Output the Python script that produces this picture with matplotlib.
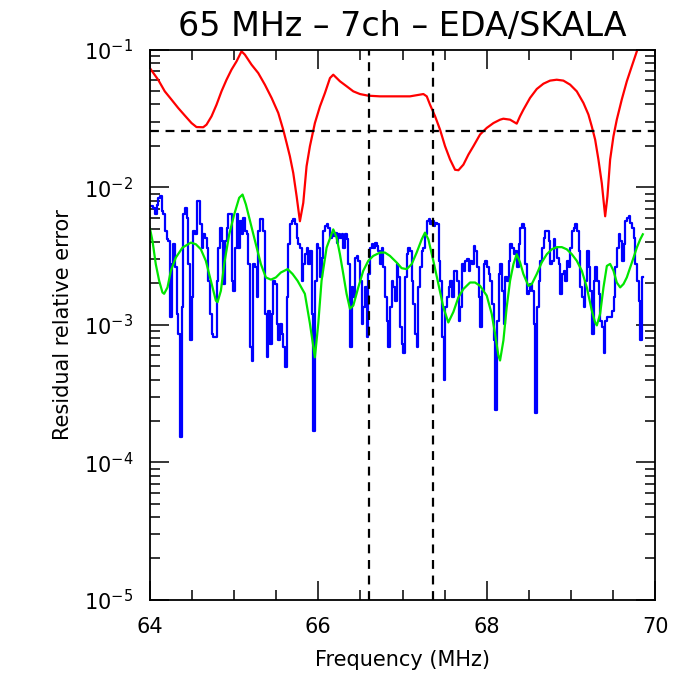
import numpy as np
import matplotlib
matplotlib.use("Agg")
import matplotlib.pyplot as plt
from matplotlib.ticker import MultipleLocator, LogLocator, NullFormatter

# residual error of the fit, per channel (units of 1e-3), channel step ~0.0198 MHz
blue_e3 = [
    7.28, 7.28, 7.09, 6.34, 7.49, 8.38, 8.61, 6.71, 6.34, 4.81, 4.18, 4.07, 1.14, 2.76, 3.85,
    2.61, 1.20, 0.86, 0.154, 1.34, 6.34, 7.09, 6.00, 2.76, 0.77, 1.58, 4.81, 4.55, 7.92, 7.92,
    5.37, 3.64, 4.55, 4.30, 3.64, 2.09, 1.20, 0.86, 0.81, 0.81, 2.09, 3.64, 5.08, 4.07, 1.98,
    4.07, 5.08, 6.34, 6.34, 2.09, 1.77, 3.64, 6.34, 3.64, 5.68, 4.55, 6.00, 4.81, 4.55, 2.76,
    0.69, 0.55, 2.76, 2.61, 1.58, 4.81, 5.84, 5.84, 4.81, 1.20, 0.58, 1.27, 0.73, 1.20, 2.09,
    1.98, 1.02, 0.77, 1.02, 0.86, 0.69, 0.49, 1.58, 3.85, 5.37, 5.68, 5.84, 5.37, 4.30, 3.85,
    # 65.8 MHz ->
    3.64, 2.09, 2.76, 3.26, 3.64, 2.76, 3.44, 1.20, 0.17, 2.09, 3.85, 3.64, 2.21, 3.08, 4.81,
    5.22, 5.37, 5.08, 4.30, 4.55, 4.42, 4.68, 3.96, 4.55, 4.30, 4.55, 3.64, 4.55, 4.18, 2.76,
    0.69, 1.87, 1.58, 3.08, 3.17, 2.92, 2.09, 1.02, 1.34, 1.87, 0.81, 2.34, 3.64, 3.85, 3.64,
    3.96, 3.75, 3.44, 2.76, 3.64, 2.61, 1.58, 1.07, 0.69, 1.34, 2.09, 1.87, 1.50, 2.76, 2.21,
    0.96, 0.73, 0.62, 2.21, 3.26, 3.64, 3.44, 2.09, 1.42, 0.86, 0.69, 1.87, 2.61, 3.44, 3.64,
    4.55, 5.68, 5.84, 5.37, 5.68, 5.22, 5.52, 5.37, 2.92, 2.09, 0.81, 0.40, 1.34, 1.58, 1.87,
    2.09, 1.58, 2.47, 2.47, 2.09, 1.07, 1.34, 2.76, 2.47, 2.92, 3.00, 2.47, 2.92, 2.76, 3.75,
    3.44, 2.61, 1.58,
    # 67.9 MHz ->
    0.96, 1.77, 2.76, 2.92, 2.61, 2.34, 2.09, 1.42, 0.77, 0.24, 1.07, 2.34, 2.76, 1.77, 1.02,
    2.21, 2.09, 2.92, 3.85, 3.64, 3.26, 3.44, 2.61, 3.85, 5.08, 5.37, 5.08, 2.76, 1.68, 1.77,
    1.98, 1.77, 1.02, 0.23, 1.34, 2.09, 2.92, 3.64, 4.30, 4.81, 4.81, 4.07, 2.76, 2.92, 4.18,
    3.64, 3.08, 2.76, 1.68, 2.34, 2.47, 2.09, 2.92, 2.61, 3.64, 4.81, 5.08, 5.37, 4.81, 3.44,
    1.87, 1.58, 1.34, 2.09, 3.44, 2.61, 1.77, 0.86, 2.09, 2.61, 2.09, 1.68, 1.07, 0.96, 0.62,
    1.07, 1.14, 1.14, 1.14, 1.27, 1.58, 2.61, 3.64, 4.55, 4.07, 2.92, 3.85, 5.68, 6.00, 6.17,
    5.52, 5.08, 4.30, 2.76, 2.09, 1.50, 0.77, 2.21,
]
blue_f0 = 64.012
blue_df = 0.0198

# smoothed residual (units of 1e-3)
green_freq = [
    64.000, 64.032, 64.071, 64.111, 64.150, 64.170, 64.210, 64.250, 64.309, 64.388, 64.487,
    64.547, 64.606, 64.665, 64.725, 64.784, 64.804, 64.844, 64.883, 64.943, 65.002, 65.061,
    65.101, 65.141, 65.200, 65.259, 65.319, 65.378, 65.438, 65.497, 65.556, 65.636, 65.695,
    65.754, 65.841, 65.901, 65.960, 66.000, 66.039, 66.099, 66.178, 66.218, 66.257, 66.297,
    66.336, 66.376, 66.416, 66.475, 66.534, 66.594, 66.653, 66.733, 66.792, 66.851, 66.930,
    66.990, 67.049, 67.109, 67.168, 67.228, 67.267, 67.307, 67.366, 67.426, 67.485, 67.544,
    67.604, 67.663, 67.723, 67.802, 67.861, 67.921, 68.000, 68.059, 68.099, 68.138, 68.158,
    68.198, 68.237, 68.277, 68.317, 68.356, 68.396, 68.435, 68.495, 68.535, 68.594, 68.653,
    68.713, 68.772, 68.832, 68.891, 68.950, 69.010, 69.069, 69.129, 69.188, 69.247, 69.287,
    69.307, 69.346, 69.386, 69.426, 69.465, 69.505, 69.544, 69.584, 69.624, 69.663, 69.703,
    69.743, 69.782, 69.822, 69.853,
]
green_e3 = [
    5.08, 4.07, 2.76, 2.09, 1.72, 1.68, 1.87, 2.47, 3.08, 3.64, 3.96,
    3.85, 3.54, 2.92, 2.09, 1.50, 1.46, 1.77, 2.76, 4.55, 6.34, 8.38,
    8.85, 7.49, 5.37, 3.85, 2.76, 2.21, 2.13, 2.21, 2.40, 2.54, 2.34,
    2.09, 1.68, 1.02, 0.58, 1.02, 2.09, 3.64, 4.94, 4.30, 3.26, 2.34,
    1.68, 1.31, 1.38, 1.87, 2.47, 2.92, 3.17, 3.35, 3.35, 3.17, 2.84,
    2.58, 2.54, 2.76, 3.35, 4.18, 4.68, 4.18, 2.92, 1.98, 1.34, 1.04,
    1.24, 1.58, 1.82, 2.03, 2.03, 1.92, 1.63, 1.20, 0.86, 0.60, 0.55,
    0.77, 1.34, 2.09, 2.76, 3.26, 2.84, 2.34, 1.92, 1.98, 2.34, 2.84,
    3.26, 3.54, 3.67, 3.67, 3.54, 3.26, 2.92, 2.47, 1.87, 1.27, 1.04,
    0.99, 1.20, 1.87, 2.68, 2.77, 2.47, 2.03, 1.87, 1.98, 2.21, 2.61,
    3.08, 3.64, 4.18, 4.55,
]

red_freq = [
    64.000, 64.099, 64.178, 64.257, 64.337, 64.416, 64.495, 64.554, 64.634, 64.673, 64.733,
    64.792, 64.851, 64.911, 64.970, 65.030, 65.089, 65.129, 65.208, 65.287, 65.366, 65.446,
    65.525, 65.584, 65.624, 65.663, 65.703, 65.743, 65.782, 65.822, 65.861, 65.901, 65.960,
    66.020, 66.079, 66.139, 66.178, 66.258, 66.337, 66.416, 66.495, 66.594, 66.733, 67.089,
    67.248, 67.288, 67.327, 67.387, 67.446, 67.505, 67.565, 67.624, 67.664, 67.723, 67.783,
    67.842, 67.921, 68.000, 68.080, 68.159, 68.197, 68.277, 68.356, 68.395, 68.435, 68.514,
    68.594, 68.673, 68.752, 68.831, 68.910, 68.990, 69.069, 69.148, 69.207, 69.247, 69.287,
    69.326, 69.366, 69.406, 69.433, 69.465, 69.504, 69.544, 69.603, 69.663, 69.722, 69.782,
    69.821,
]
red_err = [
    0.0736, 0.0605, 0.0498, 0.0434, 0.0377, 0.0332, 0.0293, 0.0274, 0.0273, 0.0285, 0.0328,
    0.0398, 0.0498, 0.0605, 0.0716, 0.0823, 0.0973, 0.0920, 0.0778, 0.0677, 0.0557, 0.0446,
    0.0347, 0.0262, 0.0210, 0.0168, 0.0127, 0.0086, 0.00566, 0.0077, 0.0142, 0.0199, 0.0293,
    0.0387, 0.0484, 0.0622, 0.0658, 0.0589, 0.0542, 0.0498, 0.0476, 0.0463, 0.0458, 0.0458,
    0.0476, 0.0458, 0.0398, 0.0328, 0.0262, 0.0199, 0.0159, 0.0134, 0.0133, 0.0146, 0.0173,
    0.0199, 0.0242, 0.0270, 0.0293, 0.0310, 0.0315, 0.0310, 0.0290, 0.0328, 0.0366, 0.0446,
    0.0518, 0.0566, 0.0596, 0.0605, 0.0596, 0.0557, 0.0498, 0.0410, 0.0338, 0.0277, 0.0222,
    0.0159, 0.0107, 0.00615, 0.0086, 0.0159, 0.0234, 0.0310, 0.0434, 0.0589, 0.0757, 0.0973,
    0.115,
]

band_edges = [66.60, 67.36]
threshold = 0.0255

blue = np.array(blue_e3) * 1e-3
blue_freq = blue_f0 + blue_df * np.arange(len(blue))
green = np.array(green_e3) * 1e-3

fig = plt.figure(figsize=(7, 7), dpi=100)
ax = fig.add_axes([0.214, 0.143, 0.722, 0.786])

ax.plot(blue_freq, blue, color='#0000ff', lw=1.6, drawstyle='steps-mid')
ax.plot(green_freq, green, color='#00e600', lw=1.6)
ax.plot(red_freq, red_err, color='#ff0000', lw=1.6)

for f in band_edges:
    ax.axvline(f, color='black', lw=1.6, ls=(0, (4, 3)))
ax.axhline(threshold, color='black', lw=1.6, ls=(0, (4, 3)))

ax.set_yscale('log')
ax.set_xlim(64, 70)
ax.set_ylim(1e-5, 1e-1)
ax.xaxis.set_major_locator(MultipleLocator(2))
ax.xaxis.set_minor_locator(MultipleLocator(0.5))
ax.yaxis.set_major_locator(LogLocator(base=10, numticks=10))
ax.yaxis.set_minor_locator(LogLocator(base=10, subs=np.arange(2, 10), numticks=20))
ax.yaxis.set_minor_formatter(NullFormatter())
ax.tick_params(which='both', direction='in', top=True, right=True, labelsize=15, width=1.1)
ax.tick_params(which='major', length=14, pad=12)
ax.tick_params(which='minor', length=7)
for s in ax.spines.values():
    s.set_linewidth(1.3)

ax.set_title('65 MHz \u2013 7ch \u2013 EDA/SKALA', fontsize=24, pad=10)
ax.set_xlabel('Frequency (MHz)', fontsize=15, labelpad=10)
ax.set_ylabel('Residual relative error', fontsize=15, labelpad=8)

fig.savefig('out.png', dpi=100)
